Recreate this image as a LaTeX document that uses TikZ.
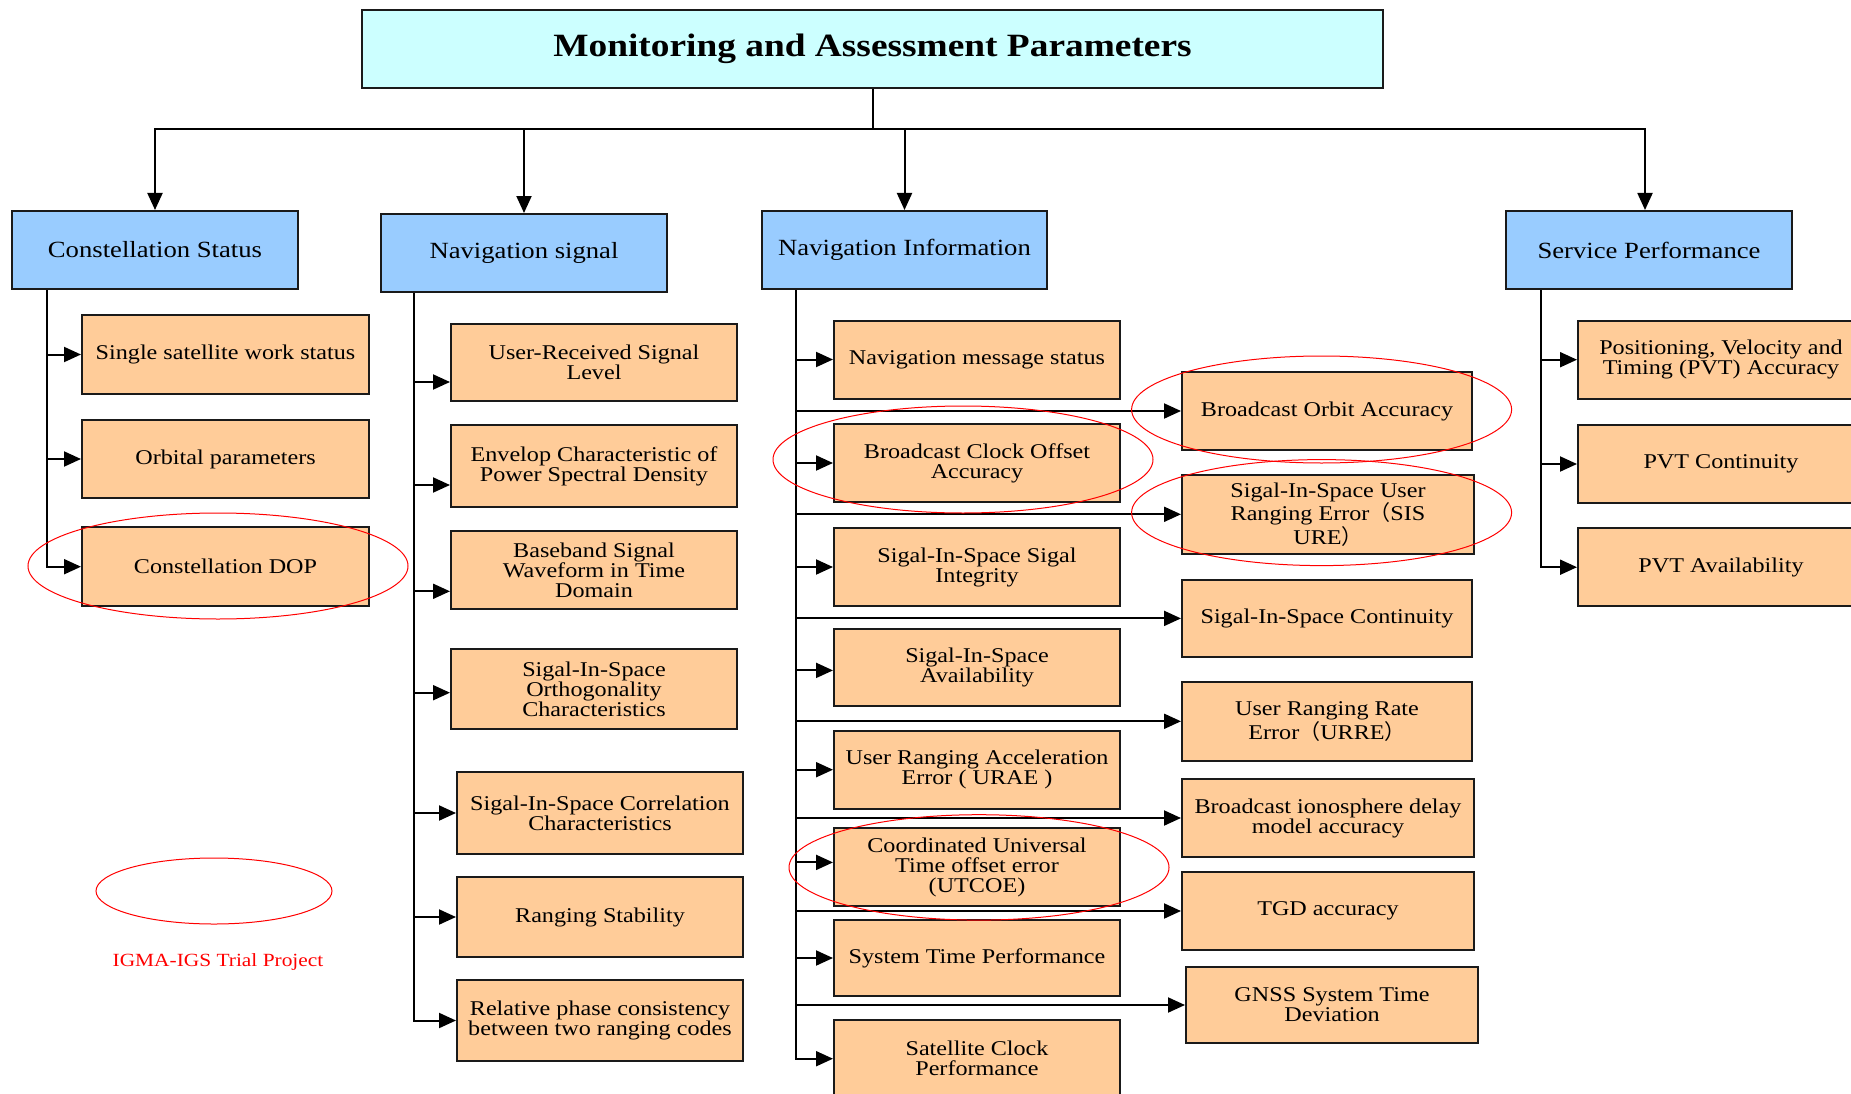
\documentclass[tikz,border=0pt]{standalone}
\usepackage{fontspec}
\setmainfont[FakeStretch=1.15]{Liberation Serif}
\newfontfamily\cjkfont{Noto Sans CJK SC}
\usetikzlibrary{arrows.meta}
\definecolor{titlefill}{HTML}{CCFFFF}
\definecolor{headfill}{HTML}{99CCFF}
\definecolor{itemfill}{HTML}{FFCC99}
\definecolor{markred}{HTML}{FF0000}
\definecolor{edgecol}{HTML}{1A1A1A}
\newcommand\fwl{{\cjkfont （}}
\newcommand\fwr{{\cjkfont ）}}
\tikzset{
  conn/.style={draw=black, line width=2pt},
  arr/.style={conn, -{Triangle[length=17pt,width=15pt]}},
  basebox/.style={draw=edgecol, line width=2pt, align=center, inner sep=1pt},
  titlebox/.style={basebox, fill=titlefill, font=\fontsize{32.5}{34}\selectfont\bfseries},
  headbox/.style={basebox, fill=headfill, font=\fontsize{23.2}{24}\selectfont, minimum width=286pt, minimum height=78pt},
  itembox/.style={basebox, fill=itemfill, font=\fontsize{21}{20}\selectfont, minimum width=286pt, minimum height=78pt},
  redring/.style={draw=markred, line width=1pt},
}
\begin{document}
\begin{tikzpicture}[x=1pt,y=-1pt]
\fill[white] (0,0) rectangle (1851,1094);
\useasboundingbox (0,0) rectangle (1851,1094);

% title and headers
\node[titlebox, minimum width=1021pt, minimum height=78pt] (T) at (872.5,49) {Monitoring and Assessment Parameters};
\node[headbox] (CS) at (155,250) {Constellation Status};
\node[headbox] (NS) at (524,253) {Navigation signal};
\node[headbox, minimum width=285pt] (NI) at (904.5,250) {Navigation Information};
\node[headbox] (SP) at (1649,250) {Service Performance};

\coordinate (bus) at (872.5,129.5);
\draw[conn] (T.south) -- (bus);
\draw[arr] (bus) -| (CS.north);
\draw[arr] (bus) -| (NS.north);
\draw[arr] (bus) -| (NI.north);
\draw[arr] (bus) -| ([xshift=-4pt]SP.north);

% Constellation column
\node[itembox, minimum width=287pt, minimum height=79pt] (c1) at (225.5,354.5) {Single satellite work status};
\node[itembox, minimum width=287pt] (c2) at (225.5,459) {Orbital parameters};
\node[itembox, minimum width=287pt, minimum height=79.5pt] (c3) at (225.5,566.7) {Constellation DOP};

% Navigation signal column
\node[itembox, minimum height=77pt] (s1) at (594,362) {User-Received Signal\\Level};
\node[itembox, minimum height=82pt] (s2) at (594,466) {Envelop Characteristic of\\Power Spectral Density};
\node[itembox] (s3) at (594,570.3) {Baseband Signal\\Waveform in Time\\Domain};
\node[itembox, minimum height=80pt] (s4) at (594,689.2) {Sigal-In-Space\\Orthogonality\\Characteristics};
\node[itembox, minimum height=82pt] (s5) at (600,813) {Sigal-In-Space Correlation\\Characteristics};
\node[itembox, minimum height=80pt] (s6) at (600,917) {Ranging Stability};
\node[itembox, minimum height=81pt] (s7) at (600,1020.5) {Relative phase consistency\\between two ranging codes};

% Navigation information, left column
\node[itembox] (i1) at (977,359.5) {Navigation message status};
\node[itembox] (i2) at (977,463) {Broadcast Clock Offset\\Accuracy};
\node[itembox] (i3) at (977,567) {Sigal-In-Space Sigal\\Integrity};
\node[itembox, minimum height=77pt] (i4) at (977,667.4) {Sigal-In-Space\\Availability};
\node[itembox] (i5) at (977,769.7) {User Ranging Acceleration\\Error ( URAE )};
\node[itembox] (i6) at (977,867.4) {Coordinated Universal\\Time offset error\\(UTCOE)};
\node[itembox, minimum height=76pt] (i7) at (977,958) {System Time Performance};
\node[itembox] (i8) at (977,1058.7) {Satellite Clock\\Performance};

% Navigation information, right column
\node[itembox, minimum width=290pt] (r1) at (1327,411) {Broadcast Orbit Accuracy};
\node[itembox, minimum width=292pt, minimum height=78.5pt] (r2) at (1328,514.3) {Sigal-In-Space User\\Ranging Error\fwl SIS\\URE\fwr};
\node[itembox, minimum width=290pt, minimum height=77.3pt] (r3) at (1327,618.4) {Sigal-In-Space Continuity};
\node[itembox, minimum width=290pt, minimum height=78.5pt] (r4) at (1327,721.3) {User Ranging Rate\\Error\fwl URRE\fwr};
\node[itembox, minimum width=292pt] (r5) at (1328,818) {Broadcast ionosphere delay\\model accuracy};
\node[itembox, minimum width=292pt] (r6) at (1328,911) {TGD accuracy};
\node[itembox, minimum width=292pt, minimum height=76.3pt] (r7) at (1332,1005) {GNSS System Time\\Deviation};

% Service performance column
\node[itembox] (p1) at (1721,359.7) {Positioning, Velocity and\\Timing (PVT) Accuracy};
\node[itembox] (p2) at (1721,464) {PVT Continuity};
\node[itembox, minimum height=77.7pt] (p3) at (1721,567.2) {PVT Availability};

% trunks and branch arrows
\coordinate (cst) at ([xshift=36pt]CS.south west);
\coordinate (nst) at ([xshift=33.5pt]NS.south west);
\coordinate (nit) at ([xshift=35pt]NI.south west);
\coordinate (spt) at ([xshift=36pt]SP.south west);

\foreach \b in {c1,c2,c3} \draw[arr] (cst) |- (\b.west);

\draw[arr] (nst) |- ([yshift=-20pt]s1.west);
\draw[arr] (nst) |- ([yshift=-19pt]s2.west);
\draw[arr] (nst) |- ([yshift=-21pt]s3.west);
\draw[arr] (nst) |- ([yshift=-3.5pt]s4.west);
\foreach \b in {s5,s6,s7} \draw[arr] (nst) |- (\b.west);

\foreach \b in {i1,i2,i3,i5,i7,i8} \draw[arr] (nit) |- (\b.west);
\draw[arr] (nit) |- ([yshift=-3pt]i4.west);
\draw[arr] (nit) |- ([yshift=5pt]i6.west);
\foreach \b in {r1,r2,r3,r4,r5,r6,r7} \draw[arr] (nit) |- (\b.west);

\foreach \b in {p1,p2,p3} \draw[arr] (spt) |- (\b.west);

% IGMA-IGS marks
\draw[redring] (218,566) ellipse [x radius=190pt, y radius=53pt];
\draw[redring] (963,459.5) ellipse [x radius=190pt, y radius=53.5pt];
\draw[redring] (1321.6,409.5) ellipse [x radius=190pt, y radius=53.5pt];
\draw[redring] (1321.6,512.6) ellipse [x radius=190pt, y radius=53pt];
\draw[redring] (979,867.4) ellipse [x radius=190pt, y radius=52.7pt];
\draw[redring] (214,891) ellipse [x radius=118pt, y radius=33pt];
\node[text=markred, font=\fontsize{18.6}{20}\selectfont] (legend) at (218,962) {IGMA-IGS Trial Project};
\end{tikzpicture}
\end{document}
